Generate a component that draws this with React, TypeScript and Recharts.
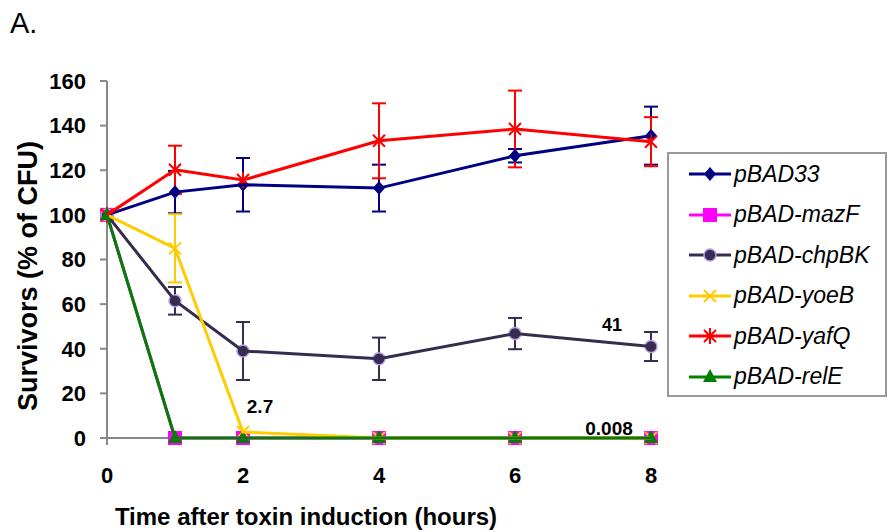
import React from "react";
import {
  LineChart,
  Line,
  XAxis,
  YAxis,
  ErrorBar,
  Legend,
  LabelList,
  Customized,
} from "recharts";

// hours after induction
const hours = [0, 1, 2, 4, 6, 8];
const xTicks = [0, 2, 4, 6, 8];
const yTicks = [0, 20, 40, 60, 80, 100, 120, 140, 160];

// survivors, % of CFU
const pBAD33 = [100, 110.2, 113.5, 112, 126.5, 135.5];
const pBAD33Err = [0, 9.5, 12, 10.5, 3, 13];
const mazF = [100, 0, 0, 0, 0, 0.008];
const chpBK = [100, 61.5, 39, 35.5, 46.8, 41];
const chpBKErr = [0, 6.2, 13, 9.5, 7, 6.5];
const yoeB = [100, 85, 2.7, 0, 0, 0];
const yoeBErr = [0, 15.3, 0, 0, 0, 0];
const yafQ = [100, 120.2, 115.6, 133.2, 138.5, 132.8];
const yafQErr = [0, 10.8, 0, 16.8, 17.2, 11];
const relE = [100, 0, 0, 0, 0, 0];

const data = hours.map((hour, i) => ({
  hour,
  pBAD33: pBAD33[i],
  pBAD33Err: pBAD33Err[i],
  mazF: mazF[i],
  chpBK: chpBK[i],
  chpBKErr: chpBKErr[i],
  yoeB: yoeB[i],
  yoeBErr: yoeBErr[i],
  yafQ: yafQ[i],
  yafQErr: yafQErr[i],
  relE: relE[i],
}));

const FONT = "'Liberation Sans', Arial, sans-serif";

const series = [
  { key: "pBAD33", name: "pBAD33", color: "#000080", shape: "diamond" },
  { key: "mazF", name: "pBAD-mazF", color: "#FF00FF", shape: "square" },
  { key: "chpBK", name: "pBAD-chpBK", color: "#352C4E", shape: "circle" },
  { key: "yoeB", name: "pBAD-yoeB", color: "#FFCC00", shape: "x" },
  { key: "yafQ", name: "pBAD-yafQ", color: "#FF0000", shape: "star" },
  { key: "relE", name: "pBAD-relE", color: "#008000", shape: "triangle" },
];

const Marker = ({ cx, cy, shape, color }: any) => {
  if (cx == null || cy == null) return null;
  switch (shape) {
    case "diamond":
      return (
        <path
          d={`M${cx},${cy - 7}L${cx + 6},${cy}L${cx},${cy + 7}L${cx - 6},${cy}Z`}
          fill={color}
        />
      );
    case "square":
      return <rect x={cx - 7} y={cy - 7} width={14} height={14} fill={color} />;
    case "circle":
      return <circle cx={cx} cy={cy} r={6} fill={color} stroke="#B89CEB" strokeWidth={1.5} />;
    case "x":
      return (
        <path
          d={`M${cx - 6},${cy - 6}L${cx + 6},${cy + 6}M${cx - 6},${cy + 6}L${cx + 6},${cy - 6}`}
          stroke={color}
          strokeWidth={2}
        />
      );
    case "star":
      return (
        <path
          d={`M${cx - 6},${cy - 6}L${cx + 6},${cy + 6}M${cx - 6},${cy + 6}L${cx + 6},${cy - 6}M${cx},${cy - 8}L${cx},${cy + 8}`}
          stroke={color}
          strokeWidth={2}
        />
      );
    case "triangle":
      return (
        <path d={`M${cx},${cy - 8}L${cx + 7},${cy + 5}L${cx - 7},${cy + 5}Z`} fill={color} />
      );
    default:
      return null;
  }
};

// value labels shown on a single point of a series
const pointLabel = (index: number, dx: number, dy: number, size: number) => (props: any) => {
  if (props.index !== index) return null;
  return (
    <text
      x={props.x + dx}
      y={props.y + dy}
      textAnchor="middle"
      fontFamily={FONT}
      fontWeight="bold"
      fontSize={size}
      fill="#000"
    >
      {String(props.value)}
    </text>
  );
};

const renderLegend = () => (
  <div
    style={{
      width: 220,
      height: 245,
      border: "2px solid #999",
      boxSizing: "border-box",
      background: "#fff",
    }}
  >
    {series.map((s) => (
      <div
        key={s.key}
        style={{ height: 40.5, display: "flex", alignItems: "center", paddingLeft: 20 }}
      >
        <svg width={42} height={20} style={{ flex: "none" }}>
          <line x1={0} x2={42} y1={10} y2={10} stroke={s.color} strokeWidth={3} />
          <Marker cx={21} cy={10} shape={s.shape} color={s.color} />
        </svg>
        <span
          style={{
            marginLeft: 3,
            fontFamily: FONT,
            fontStyle: "italic",
            fontSize: 23,
            color: "#000",
            whiteSpace: "nowrap",
          }}
        >
          {s.name}
        </span>
      </div>
    ))}
  </div>
);

const Titles = () => (
  <g fontFamily={FONT} fill="#000">
    <text x={10} y={33} fontSize={29}>
      A.
    </text>
    <text
      x={37}
      y={276}
      fontSize={27}
      fontWeight="bold"
      textAnchor="middle"
      transform="rotate(-90, 37, 276)"
    >
      Survivors (% of CFU)
    </text>
    <text x={306} y={525} fontSize={24} fontWeight="bold" textAnchor="middle">
      Time after toxin induction (hours)
    </text>
  </g>
);

const errKeys: Record<string, string> = {
  pBAD33: "pBAD33Err",
  chpBK: "chpBKErr",
  yoeB: "yoeBErr",
  yafQ: "yafQErr",
};

const labels: Record<string, any> = {
  yoeB: pointLabel(2, 17, -19, 19),
  chpBK: pointLabel(5, -39, -16, 18),
  mazF: pointLabel(5, -42, -3, 19),
};

export default function App() {
  return (
    <div style={{ position: "absolute", left: 0, top: 0, width: 888, height: 532, background: "#fff" }}>
      <LineChart
        width={888}
        height={532}
        data={data}
        margin={{ top: 81, right: 237, bottom: 0, left: 0 }}
      >
        <XAxis
          dataKey="hour"
          type="number"
          domain={[0, 8]}
          ticks={xTicks}
          height={94}
          tickSize={7}
          tickMargin={22}
          axisLine={{ stroke: "#888", strokeWidth: 2 }}
          tickLine={{ stroke: "#888", strokeWidth: 2 }}
          tick={{ fill: "#000", fontSize: 22, fontWeight: "bold", fontFamily: FONT }}
        />
        <XAxis
          xAxisId="top"
          orientation="top"
          type="number"
          domain={[0, 8]}
          height={0}
          tick={false}
          tickLine={false}
          axisLine={{ stroke: "#999", strokeWidth: 2 }}
        />
        <YAxis
          type="number"
          domain={[0, 160]}
          ticks={yTicks}
          width={107}
          tickSize={7}
          tickMargin={14}
          axisLine={{ stroke: "#888", strokeWidth: 2 }}
          tickLine={{ stroke: "#888", strokeWidth: 2 }}
          tick={{ fill: "#000", fontSize: 22, fontWeight: "bold", fontFamily: FONT }}
        />
        <YAxis
          yAxisId="right"
          orientation="right"
          type="number"
          domain={[0, 160]}
          width={0}
          tick={false}
          tickLine={false}
          axisLine={{ stroke: "#999", strokeWidth: 2 }}
        />
        {series.map((s) => (
          <Line
            key={s.key}
            dataKey={s.key}
            name={s.name}
            stroke={s.color}
            strokeWidth={3}
            zIndex={700}
            isAnimationActive={false}
            activeDot={false}
            dot={(p: any) => (
              <Marker key={`${s.key}-${p.index}`} cx={p.cx} cy={p.cy} shape={s.shape} color={s.color} />
            )}
          >
            {errKeys[s.key] && (
              <ErrorBar
                dataKey={errKeys[s.key]}
                direction="y"
                width={7}
                stroke={s.color}
                strokeWidth={2}
                isAnimationActive={false}
              />
            )}
            {labels[s.key] && <LabelList dataKey={s.key} content={labels[s.key]} />}
          </Line>
        ))}
        <Legend
          layout="vertical"
          align="center"
          verticalAlign="middle"
          content={renderLegend}
          wrapperStyle={{ left: 667, top: 152, width: 220, height: 245 }}
        />
        <Customized component={Titles} />
      </LineChart>
    </div>
  );
}
